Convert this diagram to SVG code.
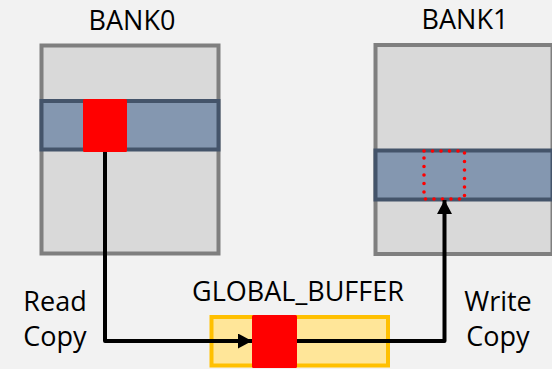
<svg xmlns="http://www.w3.org/2000/svg" width="552" height="369" viewBox="0 0 552 369">
  <defs>
    <style>
      .bank { fill: #d9d9d9; stroke: #7f7f7f; stroke-width: 4; }
      .row { fill: #8497b0; stroke: #44546a; stroke-width: 4; }
      .cell { fill: #ff0000; }
      .slot { fill: none; stroke: #ff0000; stroke-width: 3.6; stroke-linecap: round; stroke-dasharray: 0 8.5; }
      .buf { fill: #ffe699; stroke: #ffc000; stroke-width: 4; }
      .wire { fill: none; stroke: #000000; stroke-width: 4; stroke-linejoin: round; }
      .lbl { font-family: "Open Sans", "Liberation Sans", sans-serif; font-size: 27px; fill: #000000; text-anchor: middle; }
    </style>
    <marker id="head" markerUnits="userSpaceOnUse" markerWidth="16" markerHeight="16" refX="14" refY="7.5" orient="auto">
      <path d="M0,0 L14,7.5 L0,15 Z" fill="#000000"/>
    </marker>
  </defs>
  <rect width="552" height="369" fill="#f2f2f2"/>

  <g id="bank0">
    <rect class="bank" x="41.5" y="45.5" width="177" height="208"/>
    <rect class="row" x="41.5" y="101" width="177" height="48.5"/>
    <rect class="cell" x="83" y="99" width="44" height="53" rx="1.5"/>
    <text class="lbl" x="132" y="30">BANK0</text>
  </g>

  <g id="bank1">
    <rect class="bank" x="375.5" y="45" width="177" height="209"/>
    <rect class="row" x="375.5" y="150.5" width="177" height="49"/>
    <rect class="slot" x="424" y="151" width="40.5" height="48"/>
    <text class="lbl" x="465" y="28.5">BANK1</text>
  </g>

  <g id="global_buffer">
    <rect class="buf" x="211.5" y="317" width="176.5" height="48.5"/>
    <rect class="cell" x="252" y="315" width="45" height="53" rx="1.5"/>
    <text class="lbl" x="298" y="301">GLOBAL_BUFFER</text>
  </g>

  <g id="read_copy">
    <text class="lbl" x="55" y="311">Read</text>
    <text class="lbl" x="55" y="346">Copy</text>
  </g>

  <g id="write_copy">
    <text class="lbl" x="498" y="311">Write</text>
    <text class="lbl" x="498" y="346">Copy</text>
  </g>

  <g id="connectors">
    <path class="wire" d="M105,152 V341 H252" marker-end="url(#head)"/>
    <path class="wire" d="M297,341 H444.5 V200" marker-end="url(#head)"/>
  </g>
</svg>
